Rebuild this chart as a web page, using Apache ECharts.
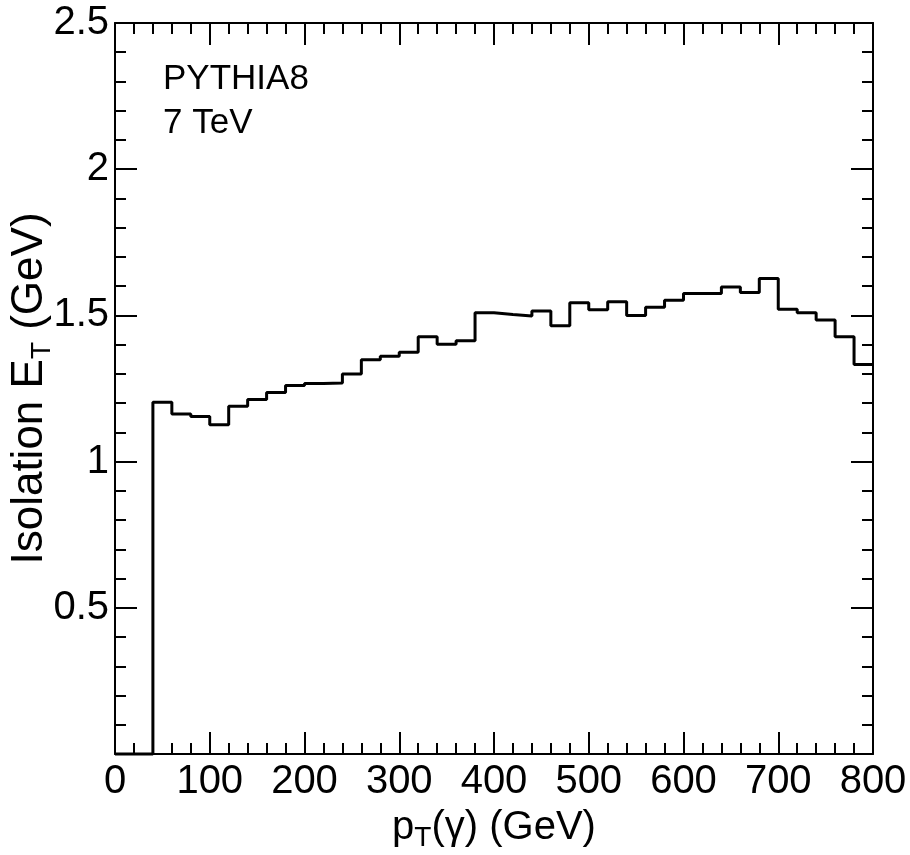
<!DOCTYPE html>
<html>
<head>
<meta charset="utf-8">
<script src="https://cdn.jsdelivr.net/npm/echarts@6/dist/echarts.min.js"></script>
<style>html,body{margin:0;padding:0;background:#fff;}#chart{width:910px;height:855px;}</style>
</head>
<body>
<div id="chart"></div>
<script>
// Bin edges (GeV) of the p_T(gamma) histogram, 41 edges for 40 bins
const binEdges = [0,20,40,60,80,100,120,140,160,180,200,220,240,260,280,300,320,340,360,380,400,
                  420,440,460,480,500,520,540,560,580,600,620,640,660,680,700,720,740,760,780,800];
// Mean isolation E_T (GeV) per bin
const isoEt = [0,0,1.203,1.163,1.154,1.126,1.189,1.212,1.236,1.260,1.267,1.269,1.300,1.348,1.360,
               1.374,1.427,1.401,1.413,1.509,1.503,1.498,1.515,1.465,1.543,1.519,1.547,1.500,1.528,
               1.552,1.575,1.575,1.597,1.578,1.626,1.521,1.509,1.484,1.427,1.332];
const xTicks = [0,100,200,300,400,500,600,700,800];
const yTicks = [0,0.5,1,1.5,2,2.5];
const labels = ['PYTHIA8','7 TeV'];

const FONT = '"Liberation Sans", Arial, Helvetica, sans-serif';
const stepData = binEdges.map((e, i) => [e, isoEt[Math.min(i, isoEt.length - 1)]]);

const axisCommon = {
  axisLine: {show: true, onZero: false, lineStyle: {color: '#000', width: 2}},
  axisTick: {show: true, inside: true, length: 22, lineStyle: {color: '#000', width: 2}},
  minorTick: {show: true, splitNumber: 5, length: 11, lineStyle: {color: '#000', width: 2}},
  splitLine: {show: false},
  nameMoveOverlap: false
};

function richTitle(size) {
  return {
    m: {fontSize: size, fontFamily: FONT, color: '#000', lineHeight: size + 4, verticalAlign: 'top'},
    sub: {fontSize: 28, fontFamily: FONT, color: '#000', lineHeight: 28, verticalAlign: 'bottom', padding: [size - 6, 0, 0, 0]}
  };
}

const chart = echarts.init(document.getElementById('chart'), null, {renderer: 'canvas'});
chart.setOption({
  backgroundColor: '#fff',
  animation: false,
  grid: {left: 115, right: 37, top: 23, bottom: 101, containLabel: false, outerBoundsMode: 'none'},
  xAxis: [
    Object.assign({}, axisCommon, {
      type: 'value', min: xTicks[0], max: xTicks[xTicks.length - 1], interval: 100,
      position: 'bottom',
      axisLabel: {show: true, color: '#000', fontSize: 40, fontFamily: FONT, margin: 8},
      name: '{m|p}{sub|T}{m|(γ) (GeV)}',
      nameLocation: 'middle', nameGap: 54,
      nameTextStyle: {color: '#000', fontSize: 40, fontFamily: FONT, rich: richTitle(40)}
    }),
    Object.assign({}, axisCommon, {
      type: 'value', min: xTicks[0], max: xTicks[xTicks.length - 1], interval: 100,
      position: 'top', axisLabel: {show: false}
    })
  ],
  yAxis: [
    Object.assign({}, axisCommon, {
      type: 'value', min: yTicks[0], max: yTicks[yTicks.length - 1], interval: 0.5,
      position: 'left',
      axisLabel: {show: true, color: '#000', fontSize: 40, fontFamily: FONT, margin: 6,
        formatter: v => (v === 0 ? '' : String(v))},
      name: '{m|Isolation E}{sub|T}{m| (GeV)}',
      nameLocation: 'middle', nameGap: 59, nameRotate: 90,
      nameTextStyle: {color: '#000', fontSize: 44, fontFamily: FONT, rich: richTitle(44)}
    }),
    Object.assign({}, axisCommon, {
      type: 'value', min: yTicks[0], max: yTicks[yTicks.length - 1], interval: 0.5,
      position: 'right', axisLabel: {show: false}
    })
  ],
  graphic: [
    {type: 'text', left: 163, top: 62, style: {text: labels[0], font: '35px ' + FONT, fill: '#000'}},
    {type: 'text', left: 163, top: 106, style: {text: labels[1], font: '35px ' + FONT, fill: '#000'}}
  ],
  series: [{
    type: 'line',
    xAxisIndex: 0, yAxisIndex: 0,
    step: 'end',
    symbol: 'none',
    data: stepData,
    lineStyle: {color: '#000', width: 3},
    clip: false
  }]
});
</script>
</body>
</html>
